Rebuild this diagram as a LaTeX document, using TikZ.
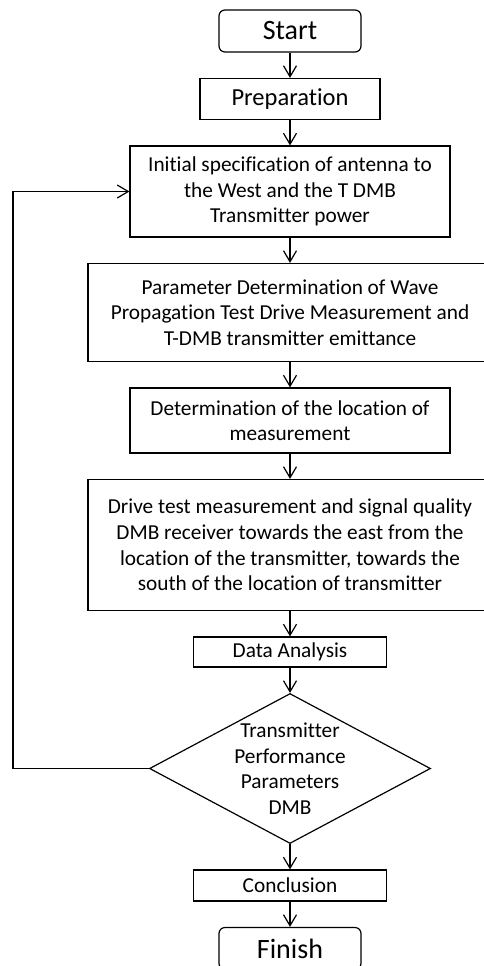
\documentclass[tikz,border=0pt]{standalone}
\usepackage{fontspec}
\setmainfont{Carlito}[Ligatures=NoCommon]
\usetikzlibrary{positioning,shapes.geometric,arrows.meta}
\tikzset{
box/.style={shape=rectangle, draw, line width=1.2pt, align=center, inner sep=2pt, font=\fontsize{21.3}{25.6}\selectfont},
terminal/.style={box, rounded corners=6pt, minimum width=142pt, minimum height=42pt, font=\fontsize{28}{32}\selectfont},
decision/.style={shape=diamond, draw, line width=1.2pt, minimum width=281pt, minimum height=150pt, inner sep=0pt},
flow/.style={line width=1.2pt, -{Straight Barb[length=11pt,width=13pt,line width=1.2pt]}}
}
\begin{document}
\begin{tikzpicture}[x=1pt, y=1pt, node distance=25.3pt]
\useasboundingbox (0,0) rectangle (483,-966);
\node[terminal] (start) at (290,-31) {Start};
\node[box, minimum width=180pt, minimum height=41pt, font=\fontsize{24.5}{28}\selectfont, below=of start] (prep) {Preparation};
\node[box, minimum width=320pt, minimum height=91pt, below=of prep] (init) {Initial specification of antenna to\\the West and the T DMB\\Transmitter power};
\node[box, minimum width=404pt, minimum height=98pt, below=of init] (param) {Parameter Determination of Wave\\Propagation Test Drive Measurement and\\T-DMB transmitter emittance};
\node[box, minimum width=320pt, minimum height=65pt, below=of param] (loc) {Determination of the location of\\measurement};
\node[box, minimum width=404pt, minimum height=131pt, below=of loc] (drive) {Drive test measurement and signal quality\\DMB receiver towards the east from the\\location of the transmitter, towards the\\south of the location of transmitter};
\node[box, minimum width=193pt, minimum height=30pt, below=of drive] (data) {Data Analysis};
\node[decision, below=of data, label={[align=center, font=\fontsize{21.3}{25.6}\selectfont]center:Transmitter\\Performance\\Parameters\\DMB}] (dec) {};
\node[box, minimum width=193pt, minimum height=31pt, below=of dec] (concl) {Conclusion};
\node[terminal, below=of concl] (finish) {Finish};

\draw[flow] (start) -- (prep);
\draw[flow] (prep) -- (init);
\draw[flow] (init) -- (param);
\draw[flow] (param) -- (loc);
\draw[flow] (loc) -- (drive);
\draw[flow] (drive) -- (data);
\draw[flow] (data) -- (dec);
\draw[flow] (dec) -- (concl);
\draw[flow] (concl) -- (finish);
% back to the start of the loop
\draw[flow] (dec.west) -| (13,0 |- init.west) -- (init.west);
\end{tikzpicture}
\end{document}
